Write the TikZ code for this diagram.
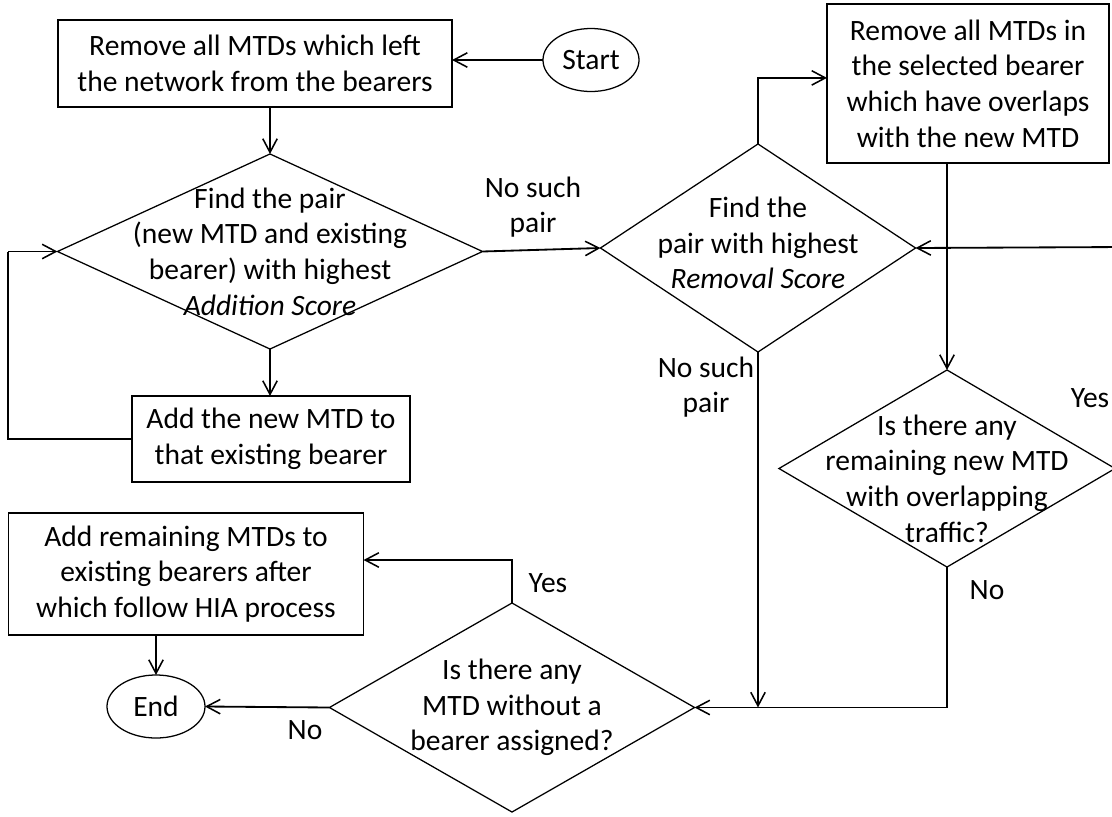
\documentclass[tikz,border=0pt]{standalone}
\usepackage{fontspec}
\setmainfont{Carlito}
\usetikzlibrary{shapes.geometric,arrows.meta}

\tikzset{
  procbox/.style={
    draw=black, fill=white, line width=0.9pt,
    align=center, inner sep=0pt, outer sep=0pt,
    font=\fontsize{21}{25.3}\selectfont
  },
  decision/.style={
    draw=black, diamond, line width=0.9pt,
    inner sep=0pt, outer sep=0pt
  },
  terminal/.style={
    draw=black, ellipse, line width=0.9pt,
    inner sep=0pt, outer sep=0pt,
    font=\fontsize{21}{25.3}\selectfont
  },
  dtext/.style={
    align=center, inner sep=0pt,
    font=\fontsize{21}{25.3}\selectfont
  },
  lbl/.style={
    align=center, inner sep=0pt,
    font=\fontsize{21}{25.3}\selectfont
  },
  flow/.style={
    line width=1.3pt,
    -{Straight Barb[length=3.4mm,width=3.6mm,line width=1.1pt]}
  },
  link/.style={line width=1.3pt},
}

\begin{document}
\begin{tikzpicture}[x=0.025cm, y=-0.025cm]

\useasboundingbox (0,0) rectangle (1112,816);

%% Top row
\node[procbox, minimum width=9.85cm, minimum height=2.175cm] (rmleft) at (255,63.5)
  {Remove all MTDs which left\\the network from the bearers};

\node[terminal, minimum width=2.4cm, minimum height=1.575cm] (start) at (591,60) {Start};

\node[procbox, minimum width=7.05cm, minimum height=3.975cm] (rmover) at (968,83.5)
  {Remove all MTDs in\\the selected bearer\\which have overlaps\\with the new MTD};

%% Decisions
\node[decision, minimum width=10.625cm, minimum height=4.875cm,
      label={[dtext]center:{Find the pair\\(new MTD and existing\\bearer) with highest\\\textit{Addition Score}}}]
  (addscore) at (270,251.5) {};

\node[decision, minimum width=7.875cm, minimum height=5.2cm,
      label={[dtext, yshift=0.12cm]center:{Find the\\pair with highest\\\textit{Removal Score}}}]
  (remscore) at (758,248) {};

\node[decision, minimum width=8.4cm, minimum height=4.925cm,
      label={[dtext, yshift=-0.25cm]center:{Is there any\\remaining new MTD\\with overlapping\\traffic?}}]
  (overlap) at (947,468.5) {};

\node[decision, minimum width=9.125cm, minimum height=5.225cm,
      label={[dtext]center:{Is there any\\MTD without a\\bearer assigned?}}]
  (unassigned) at (512,707.5) {};

%% Boxes on the left
\node[procbox, minimum width=6.95cm, minimum height=2.15cm] (addmtd) at (271,439)
  {Add the new MTD to\\that existing bearer};

\node[procbox, minimum width=8.875cm, minimum height=3.05cm] (addrest) at (186,574)
  {Add remaining MTDs to\\existing bearers after\\which follow HIA process};

\node[terminal, minimum width=2.45cm, minimum height=1.575cm] (finish) at (156,706.5) {End};

%% Edge labels
\node[lbl] (nopair1) at (533,207) {No such\\pair};
\node[lbl] (nopair2) at (706,387) {No such\\pair};
\node[lbl] (yesover) at (1090,398) {Yes};
\node[lbl] (noover) at (987,590) {No};
\node[lbl] (yesrest) at (548,583) {Yes};
\node[lbl] (noend) at (305,730) {No};

%% Turning points
\coordinate (loopL) at (8,251.5);
\coordinate (loopR) at (1125,247);

%% Connectors
\draw[flow] (start.west) -- (start.west -| rmleft.east);
\draw[flow] (addscore.north |- rmleft.south) -- (addscore.north);
\draw[flow] (addscore.south) -- (addscore.south |- addmtd.north);
\draw[link] (addmtd.west) -| (loopL);
\draw[flow] (loopL) -- (addscore.west);
\draw[flow] (addscore.east) -- (remscore.west);
\draw[flow] (remscore.north) |- ([yshift=0.14cm]rmover.west);
\draw[flow] (overlap.north |- rmover.south) -- (overlap.north);
\draw[link] (overlap.east) -| (loopR);
\draw[flow] (loopR) -- (remscore.east);
\draw[flow] (remscore.south) -- (remscore.south |- unassigned.east);
\draw[flow] (overlap.south) |- (unassigned.east);
\draw[flow] (unassigned.north) |- ([yshift=0.35cm]addrest.east);
\draw[flow] (unassigned.west) -- (finish.east);
\draw[flow] (finish.north |- addrest.south) -- (finish.north);

\end{tikzpicture}
\end{document}
